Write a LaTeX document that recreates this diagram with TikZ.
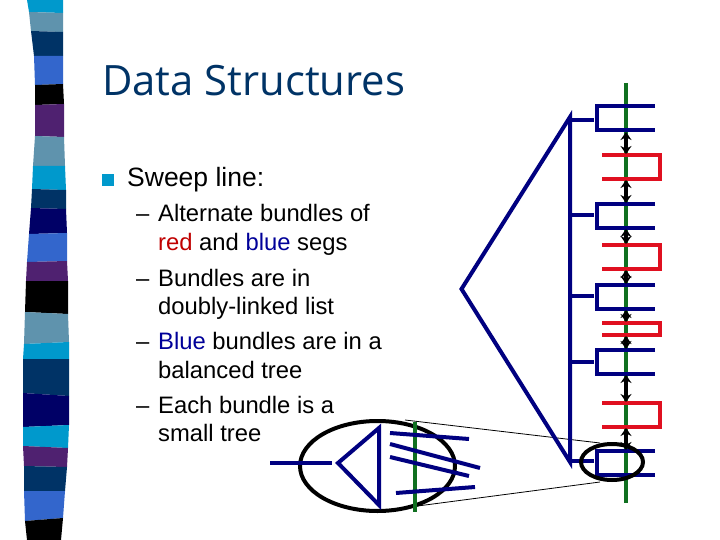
\documentclass[tikz,border=0pt]{standalone}
\usepackage{fontspec}
\setmainfont{Liberation Sans}
\newfontfamily\titlefont{Open Sans}
\definecolor{cyanS}{HTML}{0099CC}
\definecolor{greyS}{HTML}{5F93AD}
\definecolor{navyS}{HTML}{003366}
\definecolor{blueS}{HTML}{3366CC}
\definecolor{purpS}{HTML}{4F2170}
\definecolor{deepS}{HTML}{000066}
\definecolor{treeB}{HTML}{000080}
\definecolor{redB}{HTML}{E01020}
\definecolor{greenB}{HTML}{107020}
\definecolor{txtred}{HTML}{C00000}
\definecolor{txtblue}{HTML}{000099}
\usetikzlibrary{arrows.meta}
\tikzset{
 treeline/.style={draw=treeB,line width=4pt,line join=miter},
 redline/.style={draw=redB,line width=4pt,line join=miter},
 sweepline/.style={draw=greenB,line width=4pt},
 linkarrow/.style={draw=black,line width=3.6pt,{Stealth[length=8pt,width=11pt]}-{Stealth[length=8pt,width=11pt]}},
 ring/.style={draw=black,line width=4pt},
 thinl/.style={draw=black,line width=0.8pt},
 body/.style={anchor=base west,inner sep=0pt,text=black,font=\fontsize{23.8}{28}\selectfont},
 stripe/.style={fill=#1,draw=none}
}
\newcommand{\bundleB}[2]{\draw[treeline] (655,#1) -- (597,#1) -- (597,#2) -- (655,#2);}
\newcommand{\bundleR}[2]{\draw[redline] (602,#1) -- (660,#1) -- (660,#2) -- (602,#2);}
\begin{document}
\begin{tikzpicture}[x=1pt,y=-1pt]
\useasboundingbox (0,0) rectangle (720,540);
\fill[white] (0,0) rectangle (720,540);
% stripes
\fill[stripe=cyanS] (27,0) -- (63,0) -- (63,13) -- (29,12) -- cycle;
\fill[stripe=greyS] (29,12) -- (63,13) -- (63,32) -- (31,31) -- cycle;
\fill[stripe=navyS] (31,31) -- (63,32) -- (63,56) -- (34,56) -- cycle;
\fill[stripe=blueS] (34,56) -- (63,56) -- (63,84) -- (35,85) -- cycle;
\fill[stripe=black] (35,85) -- (63,84) -- (64,104) -- (35,105) -- cycle;
\fill[stripe=purpS] (35,105) -- (64,104) -- (64,137) -- (35,136) -- cycle;
\fill[stripe=greyS] (35,136) -- (64,137) -- (65,166) -- (33,166) -- cycle;
\fill[stripe=cyanS] (33,166) -- (65,166) -- (66,190) -- (32,189) -- cycle;
\fill[stripe=navyS] (32,189) -- (66,190) -- (66,209) -- (31,208) -- cycle;
\fill[stripe=deepS] (31,208) -- (66,209) -- (67,233) -- (29,234) -- cycle;
\fill[stripe=blueS] (29,234) -- (67,233) -- (67,261) -- (27,262) -- cycle;
\fill[stripe=purpS] (27,262) -- (67,261) -- (68,281) -- (26,281) -- cycle;
\fill[stripe=black] (26,281) -- (68,281) -- (68,314) -- (25,312) -- cycle;
\fill[stripe=greyS] (25,312) -- (68,314) -- (69,342) -- (24,344) -- cycle;
\fill[stripe=cyanS] (24,344) -- (69,342) -- (69,359) -- (23,359) -- cycle;
\fill[stripe=navyS] (23,359) -- (69,359) -- (69,396) -- (23,393) -- cycle;
\fill[stripe=deepS] (23,393) -- (69,396) -- (69,425) -- (23,427) -- cycle;
\fill[stripe=cyanS] (23,427) -- (69,425) -- (68,448) -- (23,446) -- cycle;
\fill[stripe=purpS] (23,446) -- (68,448) -- (67,467) -- (24,466) -- cycle;
\fill[stripe=navyS] (24,466) -- (67,467) -- (65,491) -- (24,491) -- cycle;
\fill[stripe=blueS] (24,491) -- (65,491) -- (63,518) -- (25,521) -- cycle;
\fill[stripe=black] (25,521) -- (63,518) -- (61,540) -- (27,540) -- cycle;
% text
\node[anchor=base west,inner sep=0pt,text=navyS,font=\titlefont\fontsize{41.8}{46}\selectfont] (title) at (102,96) {Data Structures};
\fill[cyanS] (102,174) rectangle (114,186);
\node[body,font=\fontsize{26.5}{30}\selectfont] (sweep) at (127,187) {Sweep line:};
\node[body] (d1) at (136,222) {–};
\node[body] (t1) at (158,222) {Alternate bundles of};
\node[body] (t1b) at (158,250) {\textcolor{txtred}{red} and \textcolor{txtblue}{blue} segs};
\node[body] (d2) at (136,286) {–};
\node[body] (t2) at (158,286) {Bundles are in};
\node[body] (t2b) at (158,314) {doubly-linked list};
\node[body] (d3) at (136,349) {–};
\node[body] (t3) at (158,349) {\textcolor{txtblue}{Blue} bundles are in a};
\node[body] (t3b) at (158,378) {balanced tree};
\node[body] (d4) at (136,413) {–};
\node[body] (t4) at (158,413) {Each bundle is a};
\node[body] (t4b) at (158,441) {small tree};
% thin zoom lines
\draw[thinl] (405,420) -- (600,443);
\draw[thinl] (410,507) -- (600,482);
% big tree
\draw[treeline] (570,117) -- (461.5,289) -- (570,462) -- cycle;
\foreach \y in {120,215,296,362,461} \draw[treeline] (570,\y) -- (594,\y);
% sweep line
\draw[sweepline] (626,83) -- (626,503);
% bundles
\bundleB{106.5}{130.5}
\bundleR{155}{179}
\bundleB{204}{228}
\bundleR{245}{269}
\bundleB{285}{309}
\bundleR{323}{335}
\bundleB{350}{374}
\bundleR{403}{427}
\bundleB{451}{475}
% links
\foreach \a/\b in {132/154,180/203,229/244,270/284,310/322,336/349,375/402,428/450}
  \draw[linkarrow] (626,\a) -- (626,\b);
\draw[ring] (612,462) ellipse [x radius=31,y radius=18];
% enlarged bundle
\draw[ring] (377.5,466) ellipse [x radius=77.5,y radius=45];
\draw[sweepline] (415,422) -- (415,512);
\draw[treeline] (270,463) -- (332,463);
\draw[treeline] (379,428) -- (338,463) -- (379,505) -- cycle;
\draw[treeline] (390,433) -- (469,439);
\draw[treeline] (390,444) -- (480,468);
\draw[treeline] (390,457) -- (469,476);
\draw[treeline] (396,493) -- (475,487);
\end{tikzpicture}
\end{document}
